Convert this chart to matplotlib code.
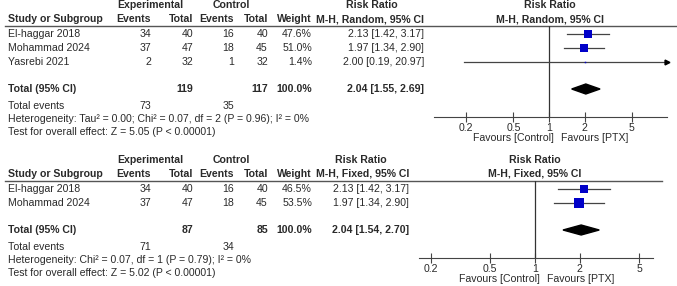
import numpy as np
import matplotlib.pyplot as plt
from matplotlib.patches import Polygon

plt.rcParams['font.family'] = ['Liberation Sans', 'DejaVu Sans']

# ---- data: random-effects analysis (top) ----
studies_top = ["El-haggar 2018", "Mohammad 2024", "Yasrebi 2021"]
exp_events_top = [34, 37, 2]
exp_total_top = [40, 47, 32]
ctl_events_top = [16, 18, 1]
ctl_total_top = [40, 45, 32]
weight_top = [47.6, 51.0, 1.4]
rr_top = [2.13, 1.97, 2.00]
lo_top = [1.42, 1.34, 0.19]
hi_top = [3.17, 2.90, 20.97]
pooled_top = (2.04, 1.55, 2.69)
totals_top = (119, 117, 73, 35)
het_top = "Heterogeneity: Tau\u00b2 = 0.00; Chi\u00b2 = 0.07, df = 2 (P = 0.96); I\u00b2 = 0%"
test_top = "Test for overall effect: Z = 5.05 (P < 0.00001)"

# ---- data: fixed-effect analysis (bottom) ----
studies_bot = ["El-haggar 2018", "Mohammad 2024"]
exp_events_bot = [34, 37]
exp_total_bot = [40, 47]
ctl_events_bot = [16, 18]
ctl_total_bot = [40, 45]
weight_bot = [46.5, 53.5]
rr_bot = [2.13, 1.97]
lo_bot = [1.42, 1.34]
hi_bot = [3.17, 2.90]
pooled_bot = (2.04, 1.54, 2.70)
totals_bot = (87, 85, 71, 34)
het_bot = "Heterogeneity: Chi\u00b2 = 0.07, df = 1 (P = 0.79); I\u00b2 = 0%"
test_bot = "Test for overall effect: Z = 5.02 (P < 0.00001)"

ticks = [0.2, 0.5, 1, 2, 5]
tick_labels = ["0.2", "0.5", "1", "2", "5"]

W, H = 677, 286
FS = 7.6
TXT = '#2a2a2a'
fig = plt.figure(figsize=(W / 100, H / 100), dpi=100)
base = fig.add_axes([0, 0, 1, 1])
base.set_xlim(0, W)
base.set_ylim(H, 0)
base.axis('off')


def t(x, y, s, ha='left', bold=False):
    base.text(x, y, s, ha=ha, va='center', fontsize=FS, color=TXT,
              fontweight='bold' if bold else 'normal')


def panel(y0, studies, ee, et, ce, ct, w, rr, lo, hi, pooled, totals, het, test,
          method, line_end, rr_right, rrhdr_c, fx0, fx1, xlim, fhdr_c):
    # headers
    t(150, y0, "Experimental", ha='center', bold=True)
    t(231, y0, "Control", ha='center', bold=True)
    t(rrhdr_c, y0, "Risk Ratio", ha='center', bold=True)
    t(fhdr_c, y0, "Risk Ratio", ha='center', bold=True)
    y1 = y0 + 14
    t(8, y1, "Study or Subgroup", bold=True)
    for x, s in zip([151, 193, 234, 268, 312], ["Events", "Total", "Events", "Total", "Weight"]):
        t(x, y1, s, ha='right', bold=True)
    t(rr_right, y1, method, ha='right', bold=True)
    t(fhdr_c, y1, method, ha='center', bold=True)
    yline = y1 + 7
    base.plot([5, line_end], [yline, yline], color='#555555', lw=1)

    rows = [yline + 8 + 14 * i for i in range(len(studies))]
    for i, y in enumerate(rows):
        t(8, y, studies[i])
        t(151, y, str(ee[i]), ha='right')
        t(193, y, str(et[i]), ha='right')
        t(234, y, str(ce[i]), ha='right')
        t(268, y, str(ct[i]), ha='right')
        t(312, y, f"{w[i]:.1f}%", ha='right')
        t(rr_right, y, f"{rr[i]:.2f} [{lo[i]:.2f}, {hi[i]:.2f}]", ha='right')
    ytot = rows[-1] + 27
    t(8, ytot, "Total (95% CI)", bold=True)
    t(193, ytot, str(totals[0]), ha='right', bold=True)
    t(268, ytot, str(totals[1]), ha='right', bold=True)
    t(312, ytot, "100.0%", ha='right', bold=True)
    t(rr_right, ytot, f"{pooled[0]:.2f} [{pooled[1]:.2f}, {pooled[2]:.2f}]", ha='right', bold=True)
    t(8, ytot + 17, "Total events")
    t(151, ytot + 17, str(totals[2]), ha='right')
    t(234, ytot + 17, str(totals[3]), ha='right')
    t(8, ytot + 30, het)
    t(8, ytot + 43, test)

    # forest axes
    yaxis = ytot + 28
    ax = fig.add_axes([fx0 / W, 1 - yaxis / H, (fx1 - fx0) / W, (yaxis - yline) / H])
    ax.patch.set_alpha(0)
    ax.set_xscale('log')
    ax.set_xlim(*xlim)
    ax.set_ylim(yaxis, yline)
    for s in ['top', 'left', 'right']:
        ax.spines[s].set_visible(False)
    ax.spines['bottom'].set_color('#444444')
    ax.set_yticks([])
    ax.set_xticks(ticks)
    ax.set_xticklabels(tick_labels)
    ax.minorticks_off()
    ax.tick_params(axis='x', direction='inout', length=7, width=0.8, color='#444444',
                   labelsize=FS, labelcolor=TXT, pad=0.5)
    ax.axvline(1, color='#333333', lw=0.9)
    for i, y in enumerate(rows):
        right = min(hi[i], xlim[1])
        ax.plot([max(lo[i], xlim[0]), right], [y, y], color='#444444', lw=0.9)
        if hi[i] > xlim[1]:
            ax.plot([xlim[1]], [y], marker='>', color='black', ms=3.5, clip_on=False)
        side = 1.25 * np.sqrt(w[i])
        ax.plot([rr[i]], [y], marker='s', color='#0000c8', ms=side * 0.72, mew=0)
    d = Polygon([(pooled[1], ytot), (pooled[0], ytot - 5), (pooled[2], ytot), (pooled[0], ytot + 5)],
                closed=True, color='black')
    ax.add_patch(d)
    # favours labels
    x1 = fx0 + (fx1 - fx0) * (np.log10(1) - np.log10(xlim[0])) / (np.log10(xlim[1]) - np.log10(xlim[0]))
    t(x1 + 5, yaxis + 21, "Favours [Control]", ha='right')
    t(x1 + 12, yaxis + 21, "Favours [PTX]")


panel(5, studies_top, exp_events_top, exp_total_top, ctl_events_top, ctl_total_top,
      weight_top, rr_top, lo_top, hi_top, pooled_top, totals_top, het_top, test_top,
      "M-H, Random, 95% CI", 677, 424, 372, 434, 667, (0.107, 9.87), 550)
panel(160, studies_bot, exp_events_bot, exp_total_bot, ctl_events_bot, ctl_total_bot,
      weight_bot, rr_bot, lo_bot, hi_bot, pooled_bot, totals_bot, het_bot, test_bot,
      "M-H, Fixed, 95% CI", 662, 409, 361, 419, 653, (0.166, 6.2), 535)

fig.savefig("out.png", dpi=100)
